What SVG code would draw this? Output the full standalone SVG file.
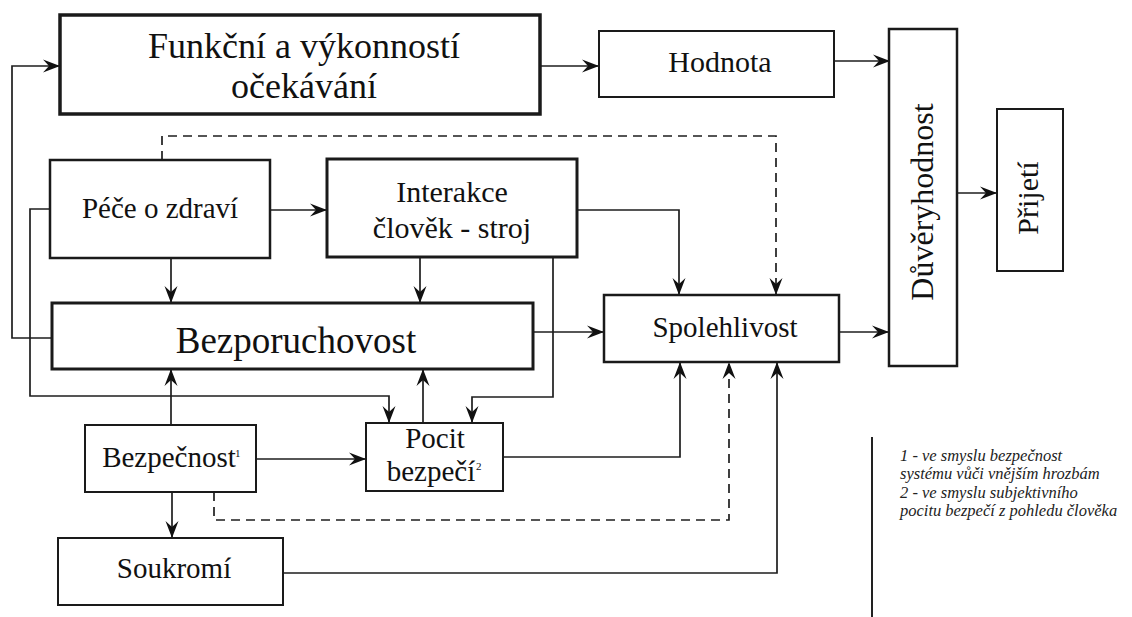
<svg xmlns="http://www.w3.org/2000/svg" width="1132" height="617" viewBox="0 0 1132 617">
  <style>
    .box { fill: #ffffff; stroke: #1a1a1a; }
    .lbl { font-family: "Liberation Serif", "Times New Roman", serif; fill: #111111; text-anchor: middle; }
    .sup { font-family: "Liberation Serif", "Times New Roman", serif; fill: #111111; font-size: 11px; }
    .note { font-family: "Liberation Serif", "Times New Roman", serif; font-style: italic; fill: #222222; font-size: 16.5px; }
    .edge { fill: none; stroke: #1e1e1e; stroke-width: 1.7; marker-end: url(#arr); }
    .dash { fill: none; stroke: #1e1e1e; stroke-width: 1.7; stroke-dasharray: 9 6; marker-end: url(#arr); }
  </style>
  <defs>
    <!-- barbed arrowhead, tip sits on the path end -->
    <marker id="arr" markerUnits="userSpaceOnUse" viewBox="-18 -8 19 16" refX="0" refY="0" markerWidth="19" markerHeight="16" orient="auto">
      <path d="M0,0 L-17,-6.5 L-11,0 L-17,6.5 Z" fill="#111111"/>
    </marker>
  </defs>
  <rect width="1132" height="617" fill="#ffffff"/>

  <!-- connectors -->
  <g id="connectors">
    <path class="edge" d="M52,338 H12 V66 H60"/>
    <path class="edge" d="M540,66 H599"/>
    <path class="edge" d="M834,61 H890"/>
    <path class="dash" d="M162,160 V136 H776 V295"/>
    <path class="edge" d="M270,210 H327"/>
    <path class="edge" d="M50,209 H30 V396 H389 V423"/>
    <path class="edge" d="M171,258 V303"/>
    <path class="edge" d="M420,257 V303"/>
    <path class="edge" d="M577,210 H679 V295"/>
    <path class="edge" d="M553,257 V397 H472 V423"/>
    <path class="edge" d="M533,332 H604"/>
    <path class="edge" d="M839,332 H889"/>
    <path class="edge" d="M957,193 H997"/>
    <path class="edge" d="M171,425 V369"/>
    <path class="edge" d="M423,423 V369"/>
    <path class="edge" d="M256,459 H366"/>
    <path class="edge" d="M503,457 H680 V362"/>
    <path class="dash" d="M214,492 V520 H729 V362"/>
    <path class="edge" d="M172,492 V538"/>
    <path class="edge" d="M283,573 H777 V362"/>
  </g>

  <g id="n-funkcni">
    <rect class="box" x="60" y="15" width="480" height="99" stroke-width="3.5"/>
    <text class="lbl" x="304" y="58" font-size="36">Funkční a výkonností</text>
    <text class="lbl" x="304" y="98" font-size="36">očekávání</text>
  </g>

  <g id="n-hodnota">
    <rect class="box" x="599" y="31" width="235" height="66" stroke-width="2"/>
    <text class="lbl" x="720" y="72" font-size="30">Hodnota</text>
  </g>

  <g id="n-duveryhodnost">
    <rect class="box" x="889" y="29" width="68" height="337" stroke-width="2.5"/>
    <text class="lbl" transform="translate(933,202) rotate(-90)" font-size="32">Důvěryhodnost</text>
  </g>

  <g id="n-prijeti">
    <rect class="box" x="997" y="109" width="66" height="162" stroke-width="2"/>
    <text class="lbl" transform="translate(1038,198) rotate(-90)" font-size="30">Přijetí</text>
  </g>

  <g id="n-pece">
    <rect class="box" x="50" y="160" width="220" height="98" stroke-width="2.5"/>
    <text class="lbl" x="160" y="218" font-size="29">Péče o zdraví</text>
  </g>

  <g id="n-interakce">
    <rect class="box" x="327" y="159" width="250" height="98" stroke-width="3"/>
    <text class="lbl" x="452" y="202" font-size="30">Interakce</text>
    <text class="lbl" x="452" y="238" font-size="30">člověk - stroj</text>
  </g>

  <g id="n-bezporuchovost">
    <rect class="box" x="52" y="303" width="481" height="66" stroke-width="3"/>
    <text class="lbl" x="296" y="353" font-size="37">Bezporuchovost</text>
  </g>

  <g id="n-spolehlivost">
    <rect class="box" x="604" y="295" width="235" height="67" stroke-width="2.5"/>
    <text class="lbl" x="725" y="337" font-size="29">Spolehlivost</text>
  </g>

  <g id="n-bezpecnost">
    <rect class="box" x="85" y="425" width="171" height="67" stroke-width="2"/>
    <text class="lbl" x="169" y="467" font-size="29">Bezpečnost</text>
    <text class="sup" x="235" y="457">1</text>
  </g>

  <g id="n-pocit">
    <rect class="box" x="366" y="423" width="137" height="68" stroke-width="2"/>
    <text class="lbl" x="435" y="448" font-size="29">Pocit</text>
    <text class="lbl" x="431" y="481" font-size="29">bezpečí</text>
    <text class="sup" x="476" y="470">2</text>
  </g>

  <g id="n-soukromi">
    <rect class="box" x="58" y="538" width="225" height="67" stroke-width="2"/>
    <text class="lbl" x="174" y="578" font-size="29">Soukromí</text>
  </g>

  <g id="footnotes">
    <line x1="872" y1="437" x2="872" y2="617" stroke="#222222" stroke-width="2"/>
    <text class="note" x="900" y="461">1 - ve smyslu bezpečnost</text>
    <text class="note" x="900" y="479">systému vůči vnějším hrozbám</text>
    <text class="note" x="900" y="498">2 - ve smyslu subjektivního</text>
    <text class="note" x="900" y="516">pocitu bezpečí z pohledu člověka</text>
  </g>
</svg>
